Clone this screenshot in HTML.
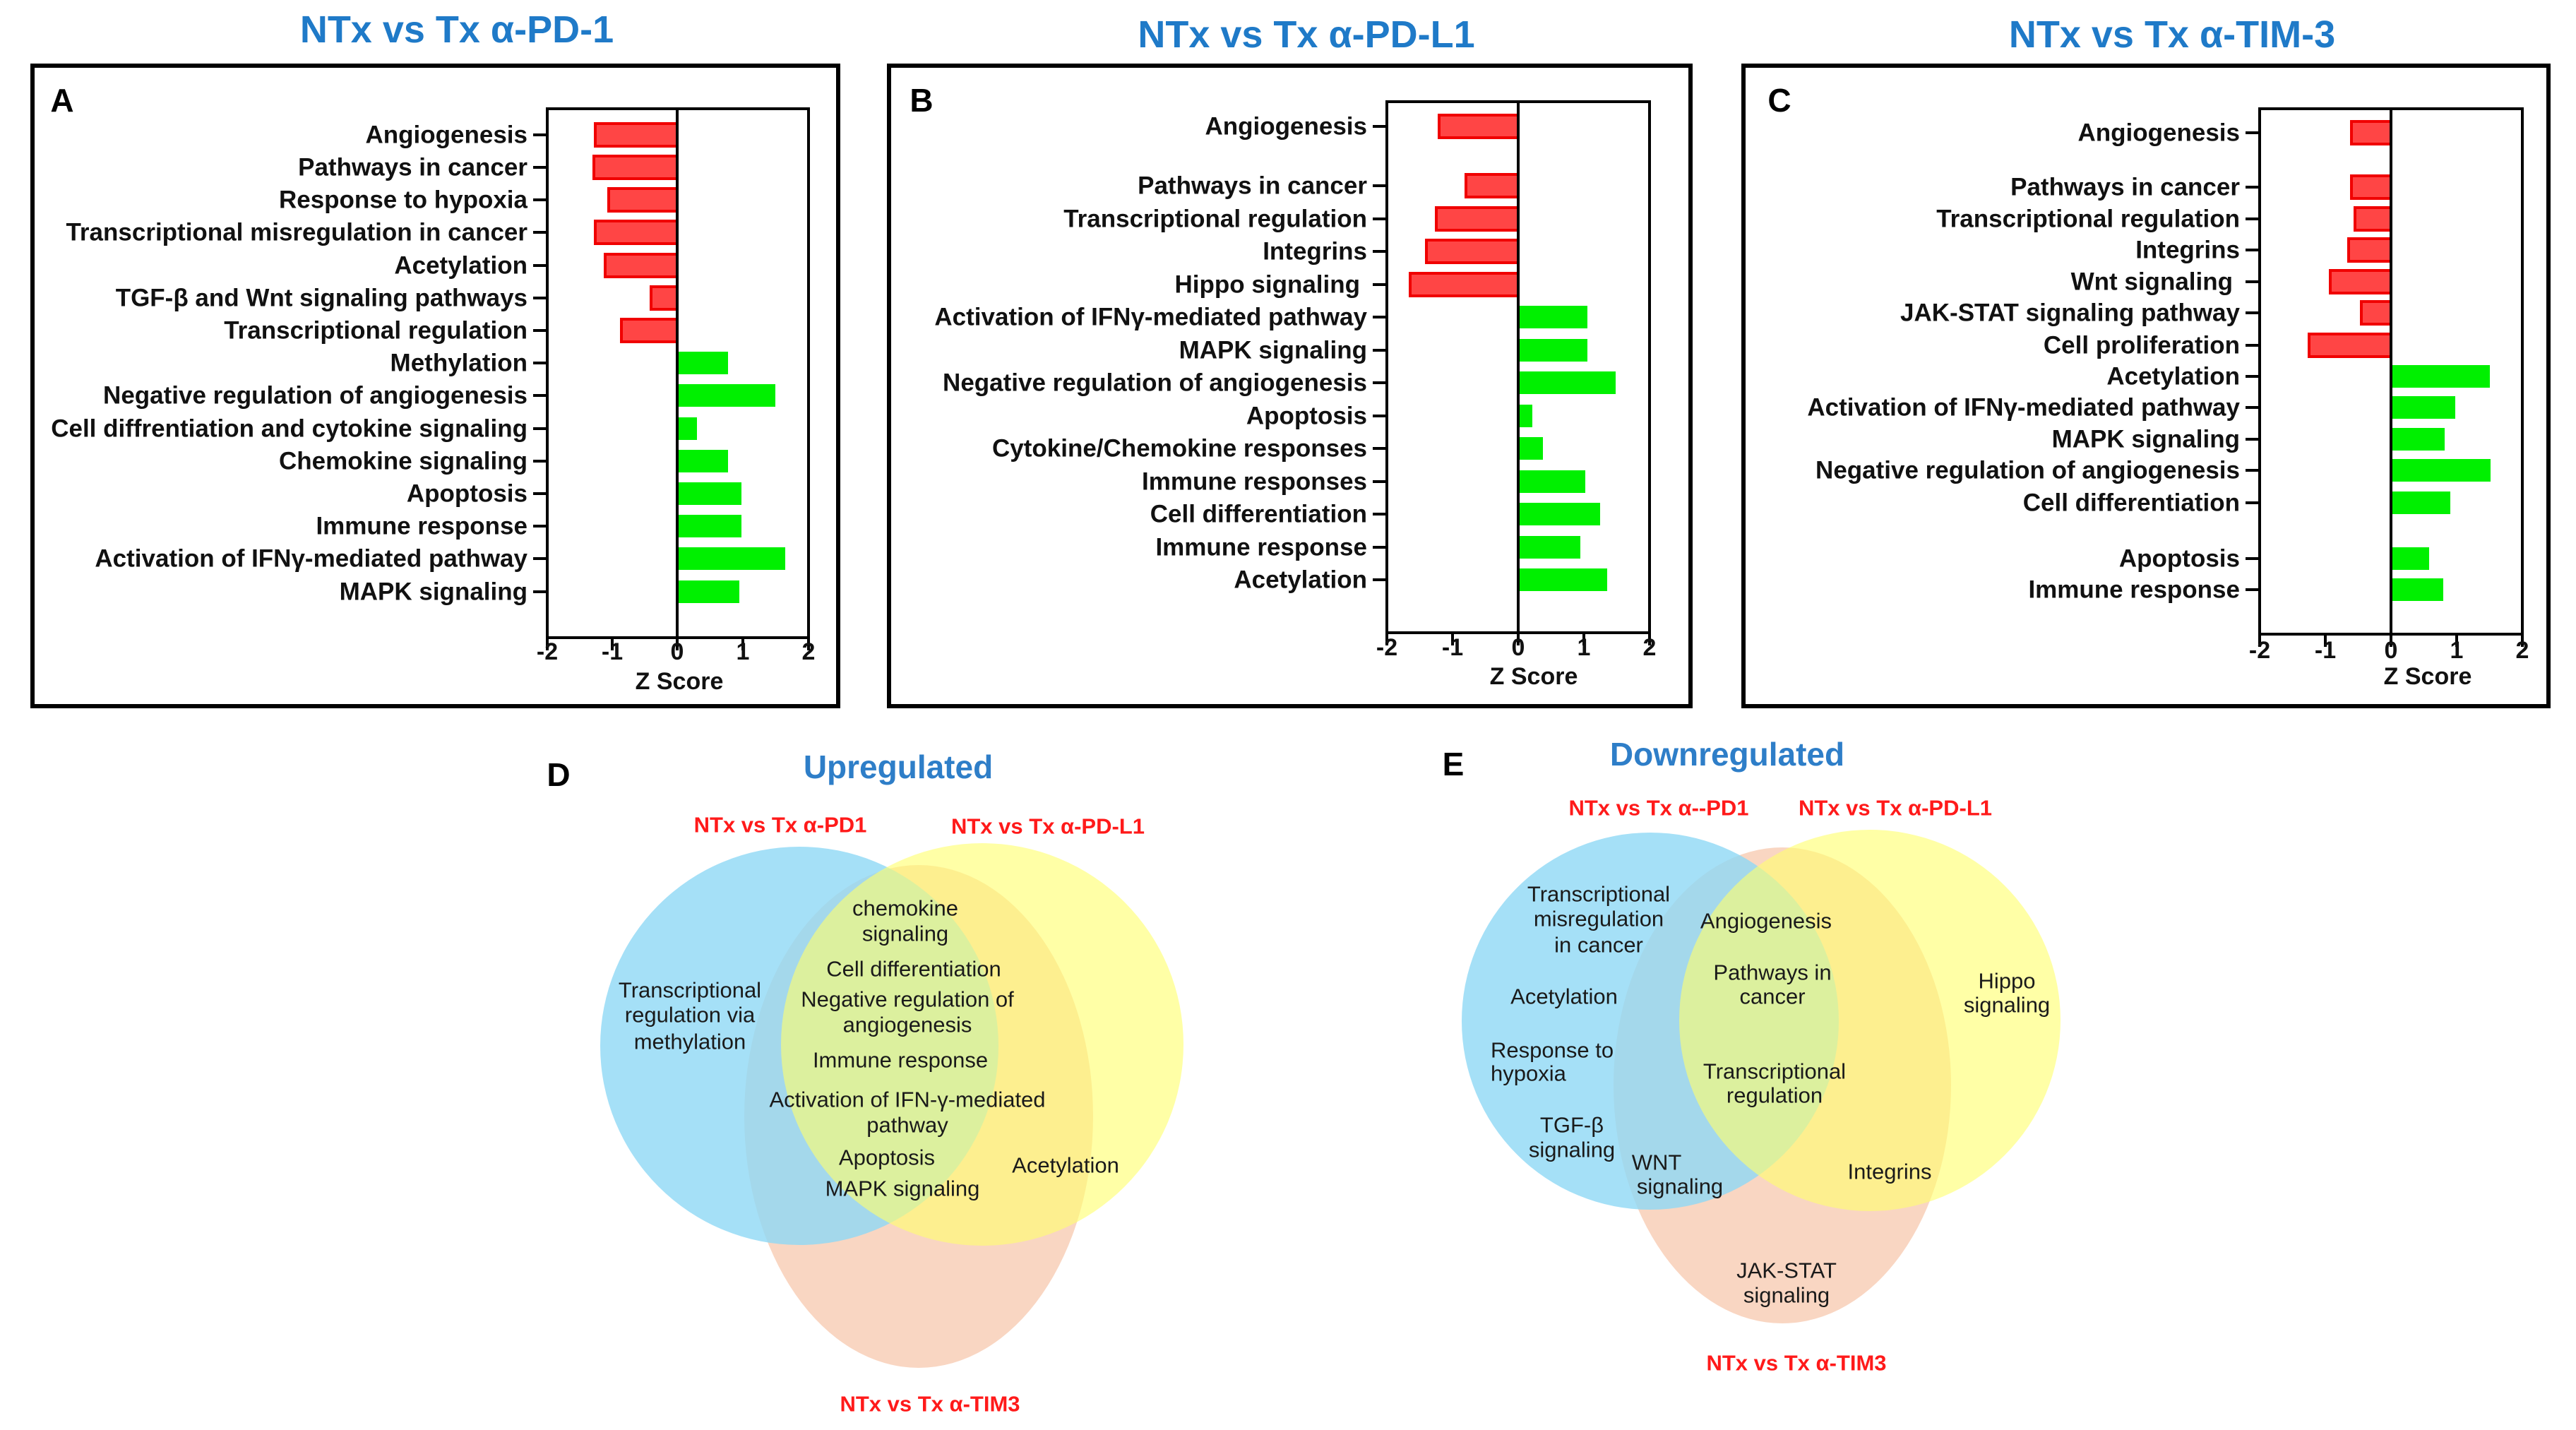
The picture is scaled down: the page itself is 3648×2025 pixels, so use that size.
<!DOCTYPE html>
<html><head><meta charset="utf-8"><style>
html,body{margin:0;padding:0;background:#fff}
svg{display:block}
.t{font-family:"Liberation Sans",sans-serif;font-weight:bold;fill:#111;font-size:35px}
.lab{text-anchor:end;dominant-baseline:central}
.tk{text-anchor:middle;font-size:34px}
.ti{font-family:"Liberation Sans",sans-serif;font-weight:bold;fill:#1f7ac8;font-size:54px;text-anchor:middle}
.pl{font-family:"Liberation Sans",sans-serif;font-weight:bold;fill:#000;font-size:46px;text-anchor:middle;dominant-baseline:central}
.v{font-family:"Liberation Sans",sans-serif;fill:#1a1a1a;font-size:31px;text-anchor:middle;dominant-baseline:central}
.vr{font-family:"Liberation Sans",sans-serif;font-weight:bold;fill:#ff1a1a;font-size:31px;text-anchor:middle;dominant-baseline:central}
.vt{font-family:"Liberation Sans",sans-serif;font-weight:bold;fill:#2e7ec8;font-size:46px;text-anchor:middle;dominant-baseline:central}
.r{fill:#ff4545;stroke:#f00000;stroke-width:4}
.g{fill:#00f000}
.ax{stroke:#000;stroke-width:4;fill:none}
</style></head><body>
<svg width="3648" height="2025" viewBox="0 0 3648 2025" xmlns="http://www.w3.org/2000/svg">
<rect width="3648" height="2025" fill="#fff"/>
<text class="ti" x="647" y="60">NTx vs Tx α-PD-1</text>
<text class="ti" x="1850" y="67">NTx vs Tx α-PD-L1</text>
<text class="ti" x="3076" y="67">NTx vs Tx α-TIM-3</text>
<rect x="46" y="93" width="1141" height="907" fill="none" stroke="#000" stroke-width="6"/>
<rect x="1259" y="93" width="1135" height="907" fill="none" stroke="#000" stroke-width="6"/>
<rect x="2469" y="93" width="1140" height="907" fill="none" stroke="#000" stroke-width="6"/>
<text class="pl" x="88" y="142">A</text>
<text class="pl" x="1305" y="142">B</text>
<text class="pl" x="2520" y="142">C</text>

<g>
<rect class="r" x="843" y="175" width="116" height="32"/>
<rect class="r" x="841" y="221" width="118" height="32"/>
<rect class="r" x="862" y="267" width="97" height="32"/>
<rect class="r" x="843" y="313" width="116" height="32"/>
<rect class="r" x="857" y="360" width="102" height="32"/>
<rect class="r" x="922" y="406" width="37" height="32"/>
<rect class="r" x="880" y="452" width="79" height="32"/>
<rect class="g" x="959" y="498" width="72" height="32"/>
<rect class="g" x="959" y="544" width="139" height="32"/>
<rect class="g" x="959" y="591" width="28" height="32"/>
<rect class="g" x="959" y="637" width="72" height="32"/>
<rect class="g" x="959" y="683" width="91" height="32"/>
<rect class="g" x="959" y="729" width="91" height="32"/>
<rect class="g" x="959" y="775" width="153" height="32"/>
<rect class="g" x="959" y="822" width="88" height="32"/>
<rect class="ax" x="775" y="154" width="370" height="749"/>
<line class="ax" x1="959" y1="154" x2="959" y2="903"/>
<path class="ax" d="M755 191H775M755 237H775M755 283H775M755 329H775M755 376H775M755 422H775M755 468H775M755 514H775M755 560H775M755 607H775M755 653H775M755 699H775M755 745H775M755 791H775M755 838H775"/>
<path class="ax" d="M775 903V921M867 903V921M959 903V921M1052 903V921M1145 903V921"/>
<text class="t lab" x="747" y="191">Angiogenesis</text>
<text class="t lab" x="747" y="237">Pathways in cancer</text>
<text class="t lab" x="747" y="283">Response to hypoxia</text>
<text class="t lab" x="747" y="329">Transcriptional misregulation in cancer</text>
<text class="t lab" x="747" y="376">Acetylation</text>
<text class="t lab" x="747" y="422">TGF-β and Wnt signaling pathways</text>
<text class="t lab" x="747" y="468">Transcriptional regulation</text>
<text class="t lab" x="747" y="514">Methylation</text>
<text class="t lab" x="747" y="560">Negative regulation of angiogenesis</text>
<text class="t lab" x="747" y="607">Cell diffrentiation and cytokine signaling</text>
<text class="t lab" x="747" y="653">Chemokine signaling</text>
<text class="t lab" x="747" y="699">Apoptosis</text>
<text class="t lab" x="747" y="745">Immune response</text>
<text class="t lab" x="747" y="791">Activation of IFNγ-mediated pathway</text>
<text class="t lab" x="747" y="838">MAPK signaling</text>
<text class="t tk" x="775" y="934">-2</text>
<text class="t tk" x="867" y="934">-1</text>
<text class="t tk" x="959" y="934">0</text>
<text class="t tk" x="1052" y="934">1</text>
<text class="t tk" x="1145" y="934">2</text>
<text class="t tk" x="962" y="976">Z Score</text>
</g>

<g>
<rect class="r" x="2038" y="163" width="112" height="32"/>
<rect class="r" x="2076" y="247" width="74" height="32"/>
<rect class="r" x="2034" y="294" width="116" height="32"/>
<rect class="r" x="2020" y="340" width="130" height="32"/>
<rect class="r" x="1997" y="387" width="153" height="32"/>
<rect class="g" x="2150" y="433" width="98" height="32"/>
<rect class="g" x="2150" y="480" width="98" height="32"/>
<rect class="g" x="2150" y="526" width="138" height="32"/>
<rect class="g" x="2150" y="573" width="20" height="32"/>
<rect class="g" x="2150" y="619" width="35" height="32"/>
<rect class="g" x="2150" y="666" width="95" height="32"/>
<rect class="g" x="2150" y="712" width="116" height="32"/>
<rect class="g" x="2150" y="759" width="88" height="32"/>
<rect class="g" x="2150" y="805" width="126" height="32"/>
<rect class="ax" x="1964" y="144" width="372" height="752"/>
<line class="ax" x1="2150" y1="144" x2="2150" y2="896"/>
<path class="ax" d="M1944 179H1964M1944 263H1964M1944 310H1964M1944 356H1964M1944 403H1964M1944 449H1964M1944 496H1964M1944 542H1964M1944 589H1964M1944 635H1964M1944 682H1964M1944 728H1964M1944 775H1964M1944 821H1964"/>
<path class="ax" d="M1964 896V914M2057 896V914M2150 896V914M2243 896V914M2336 896V914"/>
<text class="t lab" x="1936" y="179">Angiogenesis</text>
<text class="t lab" x="1936" y="263">Pathways in cancer</text>
<text class="t lab" x="1936" y="310">Transcriptional regulation</text>
<text class="t lab" x="1936" y="356">Integrins</text>
<text class="t lab" x="1926" y="403">Hippo signaling</text>
<text class="t lab" x="1936" y="449">Activation of IFNγ-mediated pathway</text>
<text class="t lab" x="1936" y="496">MAPK signaling</text>
<text class="t lab" x="1936" y="542">Negative regulation of angiogenesis</text>
<text class="t lab" x="1936" y="589">Apoptosis</text>
<text class="t lab" x="1936" y="635">Cytokine/Chemokine responses</text>
<text class="t lab" x="1936" y="682">Immune responses</text>
<text class="t lab" x="1936" y="728">Cell differentiation</text>
<text class="t lab" x="1936" y="775">Immune response</text>
<text class="t lab" x="1936" y="821">Acetylation</text>
<text class="t tk" x="1964" y="928">-2</text>
<text class="t tk" x="2057" y="928">-1</text>
<text class="t tk" x="2150" y="928">0</text>
<text class="t tk" x="2243" y="928">1</text>
<text class="t tk" x="2336" y="928">2</text>
<text class="t tk" x="2172" y="969">Z Score</text>
</g>

<g>
<rect class="r" x="3330" y="172" width="56" height="32"/>
<rect class="r" x="3330" y="249" width="56" height="32"/>
<rect class="r" x="3335" y="294" width="51" height="32"/>
<rect class="r" x="3326" y="338" width="60" height="32"/>
<rect class="r" x="3300" y="383" width="86" height="32"/>
<rect class="r" x="3344" y="427" width="42" height="32"/>
<rect class="r" x="3270" y="473" width="116" height="32"/>
<rect class="g" x="3386" y="517" width="140" height="32"/>
<rect class="g" x="3386" y="561" width="91" height="32"/>
<rect class="g" x="3386" y="606" width="76" height="32"/>
<rect class="g" x="3386" y="650" width="141" height="32"/>
<rect class="g" x="3386" y="696" width="84" height="32"/>
<rect class="g" x="3386" y="775" width="54" height="32"/>
<rect class="g" x="3386" y="819" width="74" height="32"/>
<rect class="ax" x="3200" y="154" width="372" height="744"/>
<line class="ax" x1="3386" y1="154" x2="3386" y2="898"/>
<path class="ax" d="M3180 188H3200M3180 265H3200M3180 310H3200M3180 354H3200M3180 399H3200M3180 443H3200M3180 489H3200M3180 533H3200M3180 577H3200M3180 622H3200M3180 666H3200M3180 712H3200M3180 791H3200M3180 835H3200"/>
<path class="ax" d="M3200 898V916M3293 898V916M3386 898V916M3479 898V916M3572 898V916"/>
<text class="t lab" x="3172" y="188">Angiogenesis</text>
<text class="t lab" x="3172" y="265">Pathways in cancer</text>
<text class="t lab" x="3172" y="310">Transcriptional regulation</text>
<text class="t lab" x="3172" y="354">Integrins</text>
<text class="t lab" x="3162" y="399">Wnt signaling</text>
<text class="t lab" x="3172" y="443">JAK-STAT signaling pathway</text>
<text class="t lab" x="3172" y="489">Cell proliferation</text>
<text class="t lab" x="3172" y="533">Acetylation</text>
<text class="t lab" x="3172" y="577">Activation of IFNγ-mediated pathway</text>
<text class="t lab" x="3172" y="622">MAPK signaling</text>
<text class="t lab" x="3172" y="666">Negative regulation of angiogenesis</text>
<text class="t lab" x="3172" y="712">Cell differentiation</text>
<text class="t lab" x="3172" y="791">Apoptosis</text>
<text class="t lab" x="3172" y="835">Immune response</text>
<text class="t tk" x="3200" y="932">-2</text>
<text class="t tk" x="3293" y="932">-1</text>
<text class="t tk" x="3386" y="932">0</text>
<text class="t tk" x="3479" y="932">1</text>
<text class="t tk" x="3572" y="932">2</text>
<text class="t tk" x="3438" y="969">Z Score</text>
</g>

<!-- Venn D -->
<ellipse cx="1301" cy="1581" rx="247" ry="356" fill="#f9d6c2"/>
<circle cx="1132" cy="1481" r="282" fill="#8fd8f5" fill-opacity="0.8"/>
<circle cx="1391" cy="1479" r="285" fill="#ffff70" fill-opacity="0.62"/>
<text class="pl" x="791" y="1097">D</text>
<text class="vt" x="1272" y="1086">Upregulated</text>
<text class="vr" x="1105" y="1168">NTx vs Tx α-PD1</text>
<text class="vr" x="1484" y="1170">NTx vs Tx α-PD-L1</text>
<text class="vr" x="1317" y="1988">NTx vs Tx α-TIM3</text>
<text class="v" x="977" y="1402">Transcriptional</text>
<text class="v" x="977" y="1437">regulation via</text>
<text class="v" x="977" y="1475">methylation</text>
<text class="v" x="1282" y="1286">chemokine</text>
<text class="v" x="1282" y="1322">signaling</text>
<text class="v" x="1294" y="1372">Cell differentiation</text>
<text class="v" x="1285" y="1415">Negative regulation of</text>
<text class="v" x="1285" y="1451">angiogenesis</text>
<text class="v" x="1275" y="1501">Immune response</text>
<text class="v" x="1285" y="1557">Activation of IFN-γ-mediated</text>
<text class="v" x="1285" y="1593">pathway</text>
<text class="v" x="1256" y="1639">Apoptosis</text>
<text class="v" x="1278" y="1683">MAPK signaling</text>
<text class="v" x="1509" y="1650">Acetylation</text>

<!-- Venn E -->
<ellipse cx="2524" cy="1537" rx="239" ry="337" fill="#f9d6c2"/>
<circle cx="2337" cy="1446" r="267" fill="#8fd8f5" fill-opacity="0.8"/>
<circle cx="2648" cy="1445" r="270" fill="#ffff70" fill-opacity="0.62"/>
<text class="pl" x="2058" y="1082">E</text>
<text class="vt" x="2446" y="1068">Downregulated</text>
<text class="vr" x="2349" y="1144">NTx vs Tx α--PD1</text>
<text class="vr" x="2684" y="1144">NTx vs Tx α-PD-L1</text>
<text class="vr" x="2544" y="1930">NTx vs Tx α-TIM3</text>
<text class="v" x="2264" y="1266">Transcriptional</text>
<text class="v" x="2264" y="1301">misregulation</text>
<text class="v" x="2264" y="1338">in cancer</text>
<text class="v" x="2215" y="1411">Acetylation</text>
<text class="v" x="2111" y="1487" style="text-anchor:start">Response to</text>
<text class="v" x="2111" y="1520" style="text-anchor:start">hypoxia</text>
<text class="v" x="2226" y="1593">TGF-β</text>
<text class="v" x="2226" y="1628">signaling</text>
<text class="v" x="2346" y="1646">WNT</text>
<text class="v" x="2379" y="1680">signaling</text>
<text class="v" x="2501" y="1304">Angiogenesis</text>
<text class="v" x="2510" y="1377">Pathways in</text>
<text class="v" x="2510" y="1411">cancer</text>
<text class="v" x="2513" y="1517">Transcriptional</text>
<text class="v" x="2513" y="1551">regulation</text>
<text class="v" x="2842" y="1389">Hippo</text>
<text class="v" x="2842" y="1423">signaling</text>
<text class="v" x="2676" y="1659">Integrins</text>
<text class="v" x="2530" y="1799">JAK-STAT</text>
<text class="v" x="2530" y="1834">signaling</text>
</svg>
</body></html>
